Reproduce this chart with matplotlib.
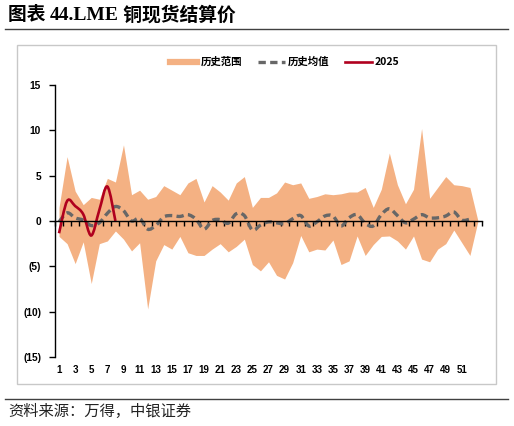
import matplotlib
matplotlib.use("Agg")
import matplotlib.pyplot as plt
from matplotlib.path import Path
from matplotlib.patches import PathPatch, Rectangle
from matplotlib.lines import Line2D
import numpy as np

# ---------------- data ----------------
weeks = list(range(1, 54))
range_upper = [1.5, 7.1, 3.3, 1.8, 2.6, 2.4, 4.7, 4.3, 8.4, 2.9,
               3.4, 2.4, 2.7, 3.9, 3.4, 2.9, 4.2, 4.7, 2.1, 3.9,
               3.2, 2.3, 4.2, 4.9, 1.5, 2.6, 2.6, 3.1, 4.3, 4.0,
               4.2, 2.5, 2.7, 3.0, 2.9, 3.0, 3.2, 3.2, 3.7, 1.5,
               3.5, 7.5, 4.0, 1.9, 3.5, 10.2, 2.5, 3.7, 4.9, 4.0,
               3.9, 3.7, 0.0]
range_lower = [-1.7, -2.5, -4.7, -2.3, -6.9, -2.5, -2.2, -1.1, -2.0, -3.3,
               -2.4, -9.7, -4.4, -2.6, -3.1, -1.7, -3.5, -3.8, -3.8, -3.1,
               -2.5, -3.4, -2.8, -2.0, -4.8, -5.5, -4.5, -6.0, -6.4, -4.6,
               -1.6, -3.4, -3.1, -3.2, -2.1, -4.8, -4.4, -1.65, -3.8, -2.6,
               -1.7, -1.65, -2.2, -3.1, -1.65, -4.2, -4.5, -3.1, -2.5, -1.0,
               -2.4, -3.8, 0.0]
hist_mean = [-0.1, 0.9, 0.35, 0.1, -0.5, -0.2, 0.85, 1.6, 1.15, 0.0,
             0.3, -0.9, -0.5, 0.45, 0.6, 0.5, 0.7, 0.2, -0.9, 0.05,
             0.15, -0.25, 0.8, 0.6, -1.0, -0.45, -0.1, -0.2, -0.3, 0.25,
             0.6, -0.55, -0.1, 0.55, 0.55, -0.55, 0.35, 0.7, -0.25, -0.55,
             0.7, 1.35, 0.6, -0.2, 0.2, 0.7, 0.35, 0.35, 0.55, 1.0,
             0.1, 0.2]
y2025 = [-1.35, 2.2, 1.65, 0.75, -1.6, 1.2, 3.8, 0.0]

xtick_labels = [str(i) for i in range(1, 52, 2)]
ytick_vals = [15, 10, 5, 0, -5, -10, -15]
ytick_labels = ["15", "10", "5", "0", "(5)", "(10)", "(15)"]

title_cn1 = "图表 "
title_num = "44.LME"
title_cn2 = " 铜现货结算价"
legend_labels = ["历史范围", "历史均值", "2025"]
source_text = "资料来源：万得，中银证券"

C_BAND = "#F4B183"
C_MEAN = "#676767"
C_RED = "#B0001E"

plt.rcParams['font.family'] = ['Liberation Sans', 'Noto Sans CJK SC', 'DejaVu Sans']


def smooth_path(x, y):
    x = np.asarray(x, float)
    y = np.asarray(y, float)
    n = len(x)
    verts = [(x[0], y[0])]
    codes = [Path.MOVETO]
    for i in range(n - 1):
        p0 = np.array([x[max(i - 1, 0)], y[max(i - 1, 0)]])
        p1 = np.array([x[i], y[i]])
        p2 = np.array([x[i + 1], y[i + 1]])
        p3 = np.array([x[min(i + 2, n - 1)], y[min(i + 2, n - 1)]])
        c1 = p1 + (p2 - p0) / 6.0
        c2 = p2 - (p3 - p1) / 6.0
        verts += [tuple(c1), tuple(c2), tuple(p2)]
        codes += [Path.CURVE4, Path.CURVE4, Path.CURVE4]
    return Path(verts, codes)


fig = plt.figure(figsize=(5.14, 4.26), dpi=100)
W, H = 514, 426

# chart frame
fig.add_artist(Rectangle((17 / W, 1 - 384 / H), (496 - 17) / W, (384 - 45) / H,
                         transform=fig.transFigure, fill=False,
                         edgecolor="#C8C8C8", lw=1.0))
# title rules
fig.add_artist(Line2D([5 / W, 508 / W], [1 - 29 / H, 1 - 29 / H],
                      transform=fig.transFigure, color="#404040", lw=1.0))
fig.add_artist(Line2D([5 / W, 508 / W], [1 - 399 / H, 1 - 399 / H],
                      transform=fig.transFigure, color="#404040", lw=1.0))

# title
fig.canvas.draw()
r = fig.canvas.get_renderer()
t1 = fig.text(8 / W, 1 - 15 / H, title_cn1, fontsize=13.5, fontweight='bold',
              family=['Noto Sans CJK SC'], va='center', ha='left')
bb = t1.get_window_extent(r)
t2 = fig.text(bb.x1 / W, 1 - 15 / H, title_num, fontsize=14, fontweight='bold',
              family=['Liberation Serif'], va='center', ha='left')
bb2 = t2.get_window_extent(r)
fig.text(bb2.x1 / W, 1 - 15 / H, title_cn2, fontsize=13.5, fontweight='bold',
         family=['Noto Sans CJK SC'], va='center', ha='left')

# source
fig.text(8 / W, 1 - 411 / H, source_text, fontsize=11,
         family=['Noto Sans CJK SC'], va='center', ha='left', color="#222222")

# axes
left, right = 55 / W, 482 / W
bottom, top = 1 - 357 / H, 1 - 85 / H
ax = fig.add_axes([left, bottom, right - left, top - bottom])
ax.set_xlim(0.5, 53.5)
ax.set_ylim(-15, 15)

ax.fill_between(weeks, range_lower, range_upper, color=C_BAND, lw=0, zorder=1)

mean_x = weeks[:len(hist_mean)]
ax.add_patch(PathPatch(smooth_path(mean_x, hist_mean), fill=False, edgecolor=C_MEAN,
                       lw=2.4, linestyle=(0, (2.2, 1.3)), capstyle='butt', zorder=3))
r_x = weeks[:len(y2025)]
ax.add_patch(PathPatch(smooth_path(r_x, y2025), fill=False, edgecolor=C_RED,
                       lw=1.9, zorder=4))

for s in ['top', 'right']:
    ax.spines[s].set_visible(False)
ax.spines['left'].set_linewidth(1.0)
ax.spines['bottom'].set_position(('data', 0))
ax.spines['bottom'].set_linewidth(1.0)
ax.spines['bottom'].set_zorder(5)

ax.set_yticks(ytick_vals)
ax.set_yticklabels(ytick_labels)
ax.tick_params(axis='y', direction='out', length=4, width=1, pad=6, labelsize=7.4)
for lab in ax.get_yticklabels():
    lab.set_fontweight('bold')

ax.set_xticks(np.arange(0.5, 54, 1.0))
ax.tick_params(axis='x', direction='out', length=3.5, width=1, labelbottom=False)

sec = ax.secondary_xaxis(-0.0)
sec.set_xticks(list(range(1, 52, 2)))
sec.set_xticklabels(xtick_labels)
sec.spines['bottom'].set_visible(False)
sec.tick_params(axis='x', length=0, pad=6, labelsize=7.0)
for lab in sec.get_xticklabels():
    lab.set_fontweight('bold')

# legend
handles = [Line2D([], [], color=C_BAND, lw=4.5),
           Line2D([], [], color=C_MEAN, lw=2.4, linestyle=(0, (2.2, 1.3))),
           Line2D([], [], color=C_RED, lw=1.9)]
leg = fig.legend(handles, legend_labels, loc='center', ncol=3,
                 bbox_to_anchor=(285 / W, 1 - 62 / H), frameon=False,
                 prop={'family': ['Noto Sans CJK SC', 'Liberation Sans'], 'weight': 'bold', 'size': 7.5},
                 handlelength=2.6, handletextpad=0.3, columnspacing=1.5)

fig.savefig("out.png", dpi=100)
